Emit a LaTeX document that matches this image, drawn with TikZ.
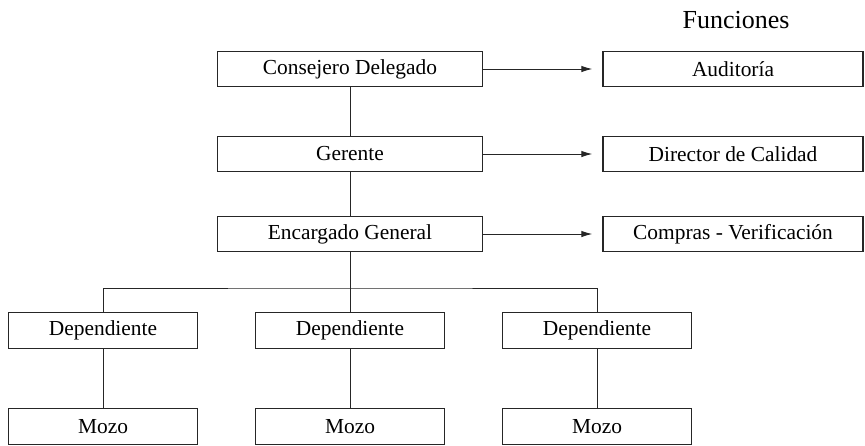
\documentclass[tikz,border=0pt]{standalone}
\usepackage{fontspec}
\setmainfont{Liberation Serif}
\usetikzlibrary{arrows.meta}

\begin{document}
\begin{tikzpicture}[x=0.5pt,y=-0.5pt,
    puesto/.style={draw=black!85,line width=0.6pt,minimum width=132.5pt,minimum height=17.5pt,inner sep=0pt,font=\fontsize{10.7}{12}\selectfont},
    funcion/.style={puesto,minimum width=130pt},
    base/.style={puesto,minimum width=94.5pt,minimum height=17.8pt},
    enlace/.style={draw=black!85,line width=0.5pt},
    flecha/.style={enlace,-{Latex[length=5.5pt,width=3.2pt]},shorten >=5pt}]
    \useasboundingbox (0,0) rectangle (865,445);
    % jerarquia principal
    \node[puesto] (consejero) at (350,69) {Consejero Delegado};
    \node[puesto] (gerente) at (350,154) {Gerente};
    \node[puesto] (encargado) at (350,234) {Encargado General};
    % funciones
    \node[font=\fontsize{13}{15}\selectfont] (funciones) at (736,20) {Funciones};
    \node[funcion] (auditoria) at (733,69) {Auditoría};
    \node[funcion] (calidad) at (733,154) {Director de Calidad};
    \node[funcion] (compras) at (733,234) {Compras - Verificación};
    % dependientes y mozos
    \node[base] (dep1) at (103,330.5) {Dependiente};
    \node[base] (dep2) at (350,330.5) {Dependiente};
    \node[base] (dep3) at (597,330.5) {Dependiente};
    \node[base] (mozo1) at (103,426.5) {Mozo};
    \node[base] (mozo2) at (350,426.5) {Mozo};
    \node[base] (mozo3) at (597,426.5) {Mozo};
    \coordinate (bus) at (350,288);
    % conexiones
    \draw[enlace] (consejero) -- (gerente);
    \draw[enlace] (gerente) -- (encargado);
    \draw[enlace] (encargado) -- (dep2);
    \draw[enlace] (dep1.north) |- (bus) -| (dep3.north);
    \draw[flecha] (consejero) -- (auditoria);
    \draw[flecha] (gerente) -- (calidad);
    \draw[flecha] (encargado) -- (compras);
    \draw[enlace] (dep1) -- (mozo1);
    \draw[enlace] (dep2) -- (mozo2);
    \draw[enlace] (dep3) -- (mozo3);
\end{tikzpicture}
\end{document}
